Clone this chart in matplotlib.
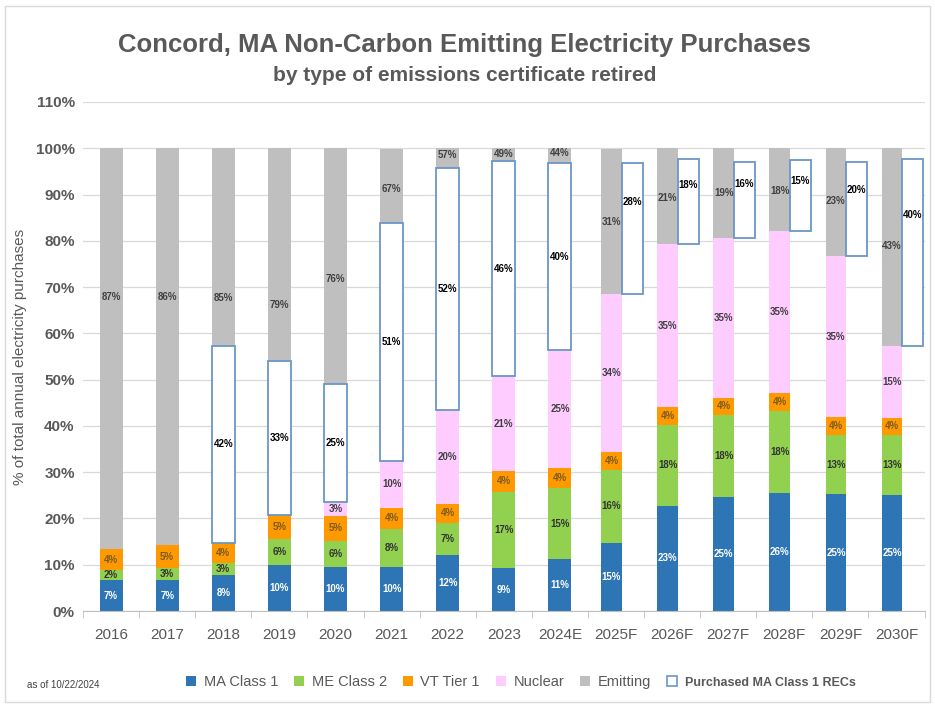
import numpy as np
import matplotlib
matplotlib.use('Agg')
import matplotlib.pyplot as plt
from matplotlib.patches import Patch, Rectangle
from matplotlib.ticker import FixedLocator, FuncFormatter

plt.rcParams['font.family'] = ['Liberation Sans', 'DejaVu Sans']

# data (% of total annual electricity purchases)
years = ['2016', '2017', '2018', '2019', '2020', '2021', '2022', '2023', '2024E',
         '2025F', '2026F', '2027F', '2028F', '2029F', '2030F']
ma_class1 = [6.6, 6.7, 7.8, 9.9, 9.6, 9.6, 12.2, 9.2, 11.2, 14.8, 22.7, 24.7, 25.6, 25.2, 25.0]
me_class2 = [2.3, 2.6, 2.6, 5.6, 5.6, 8.2, 6.9, 16.6, 15.4, 15.6, 17.6, 17.6, 17.6, 12.9, 13.0]
vt_tier1 = [4.4, 4.9, 4.4, 5.2, 5.4, 4.4, 4.1, 4.4, 4.4, 3.9, 3.8, 3.8, 3.9, 3.8, 3.8]
nuclear = [0, 0, 0, 0, 3.0, 10.3, 20.2, 20.6, 25.4, 34.2, 35.1, 34.6, 35.0, 34.8, 15.4]
emitting = [86.7, 85.8, 85.2, 79.3, 76.4, 67.4, 56.6, 49.2, 43.6, 31.4, 20.8, 19.3, 17.9, 23.3, 42.8]
ma_recs = [0, 0, 42.4, 33.4, 25.4, 51.4, 52.4, 46.4, 40.4, 28.4, 18.4, 16.4, 15.4, 20.4, 40.4]
forecast = [False] * 9 + [True] * 6

# where the "Emitting" data labels sit (they were moved by hand in the original)
emit_lbl_y = [67.8, 67.8, 67.6, 66.1, 71.7, 91.1, 98.5, 98.7, 98.9,
              84.0, 89.2, 90.3, 90.7, 88.7, 78.8]

colors = {
    'MA Class 1': '#2E75B6',
    'ME Class 2': '#92D050',
    'VT Tier 1': '#FF9900',
    'Nuclear': '#FFCCFF',
    'Emitting': '#BFBFBF',
}
box_edge = '#6A96C8'
txt_gray = '#595959'

fig = plt.figure(figsize=(9.35, 7.08), dpi=100)
ax = fig.add_axes([0.0888, 0.137, 0.9, 0.719])

x = np.arange(len(years))
fc = np.array(forecast)
width = np.where(fc, 0.37, 0.41)
stack_x = x + np.where(fc, -0.08, 0.0)
box_x = x + np.where(fc, 0.29, 0.0)

series = [('MA Class 1', ma_class1, 'white'),
          ('ME Class 2', me_class2, '#333333'),
          ('VT Tier 1', vt_tier1, '#7A5A20'),
          ('Nuclear', nuclear, '#404040')]

bottom = np.zeros(len(years))
for name, vals, lc in series:
    vals = np.array(vals, dtype=float)
    ax.bar(stack_x, vals, width=width, bottom=bottom, color=colors[name],
           linewidth=0, zorder=2)
    for i, v in enumerate(vals):
        if v > 0:
            ax.text(stack_x[i], bottom[i] + v / 2, '%d%%' % round(v),
                    ha='center', va='center', fontsize=7, color=lc,
                    fontweight='bold', zorder=5)
    bottom += vals

nuc_top = bottom.copy()
emit = np.array(emitting)
ax.bar(stack_x, emit, width=width, bottom=bottom, color=colors['Emitting'],
       linewidth=0, zorder=2)

# purchased MA Class 1 RECs (hollow boxes)
recs = np.array(ma_recs)
for i, r in enumerate(recs):
    if r <= 0:
        continue
    ax.bar(box_x[i], r, width=width[i], bottom=nuc_top[i], color='white',
           edgecolor=box_edge, linewidth=1.3, zorder=3)
    frac = 0.7 if forecast[i] else 0.5
    ax.text(box_x[i], nuc_top[i] + frac * r, '%d%%' % round(r),
            ha='center', va='center', fontsize=7, color='black',
            fontweight='bold', zorder=5)

for i, v in enumerate(emit):
    ax.text(stack_x[i], emit_lbl_y[i], '%d%%' % round(v), ha='center',
            va='center', fontsize=7, color='#404040', fontweight='bold', zorder=5)

# axes styling
ax.set_xlim(-0.5, len(years) - 0.5)
ax.set_ylim(0, 110)
ax.set_yticks(np.arange(0, 111, 10))
ax.yaxis.set_major_formatter(FuncFormatter(lambda v, p: '%d%%' % v))
ax.grid(axis='y', color='#D9D9D9', linewidth=0.9, zorder=0)
ax.set_axisbelow(True)
for s in ['top', 'right', 'left']:
    ax.spines[s].set_visible(False)
ax.spines['bottom'].set_color('#BFBFBF')
ax.tick_params(axis='y', length=0, labelsize=11, labelcolor=txt_gray, pad=6)
for t in ax.get_yticklabels():
    t.set_fontweight('bold')
ax.set_xticks(x)
ax.set_xticklabels(years)
ax.tick_params(axis='x', length=0, labelsize=11, labelcolor=txt_gray, pad=12)
ax.xaxis.set_minor_locator(FixedLocator(np.arange(-0.5, len(years), 1)))
ax.tick_params(axis='x', which='minor', length=5, color='#BFBFBF')
ax.set_ylabel('% of total annual electricity purchases', fontsize=11,
              color=txt_gray, labelpad=6)

# titles
fig.text(0.497, 0.936, 'Concord, MA Non-Carbon Emitting Electricity Purchases',
         ha='center', va='center', fontsize=18.5, fontweight='bold', color=txt_gray)
fig.text(0.497, 0.894, 'by type of emissions certificate retired',
         ha='center', va='center', fontsize=15, fontweight='bold', color=txt_gray)

# legend
handles = [Patch(facecolor=colors[k], edgecolor='none', label=k) for k in colors]
handles.append(Patch(facecolor='white', edgecolor=box_edge, linewidth=1.2,
                     label='Purchased MA Class 1 RECs'))
leg = fig.legend(handles=handles, loc='center', bbox_to_anchor=(0.557, 0.037),
                 ncol=6, frameon=False, fontsize=10.5, handlelength=0.7,
                 handleheight=0.7, handletextpad=0.5, columnspacing=1.1)
for t in leg.get_texts():
    t.set_color(txt_gray)
leg.get_texts()[-1].set_fontweight('bold')
leg.get_texts()[-1].set_fontsize(9)

fig.text(0.029, 0.033, 'as of 10/22/2024', fontsize=7, color='#404040', va='center')

# chart border
fig.patches.append(Rectangle((0.005, 0.008), 0.99, 0.984, transform=fig.transFigure,
                             fill=False, edgecolor='#D9D9D9', linewidth=1))

fig.savefig('out.png', dpi=100)
